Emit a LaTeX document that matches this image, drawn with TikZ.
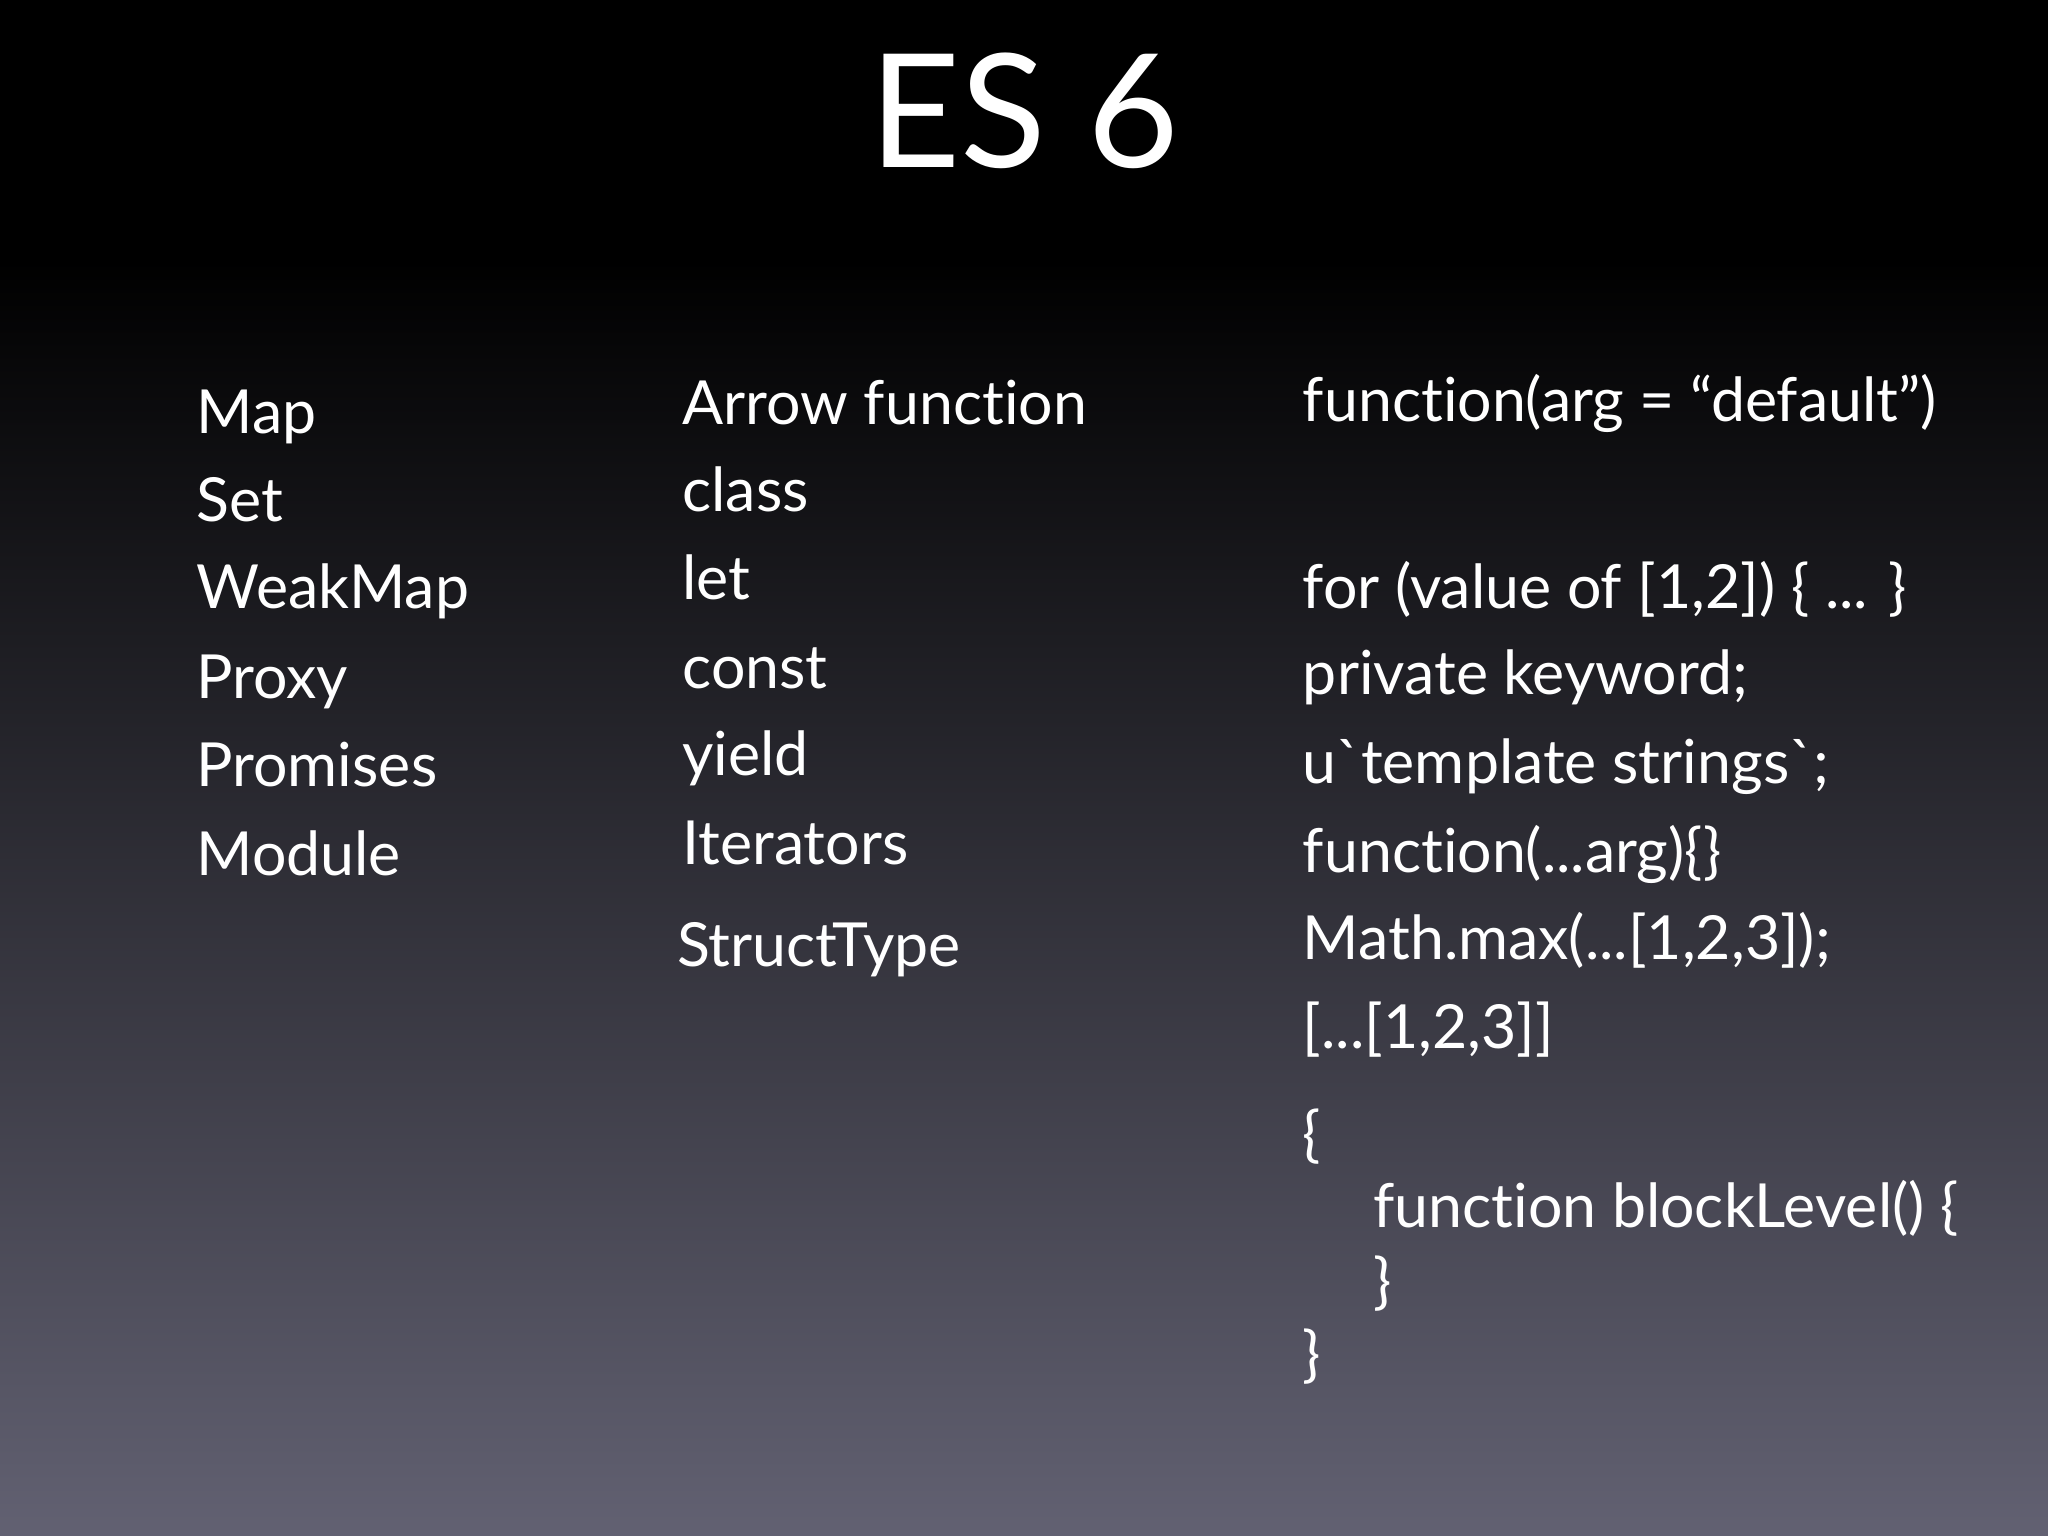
\documentclass[tikz,border=0pt]{standalone}
\usepackage{fontspec}
\setmainfont[Ligatures=NoCommon]{Lato}
\definecolor{bgmid}{HTML}{1E1E3A}
\definecolor{bgbot}{HTML}{626172}
\begin{document}
\begin{tikzpicture}[x=0.01306cm,y=-0.01306cm,
  txt/.style={anchor=base west,text=white,font=\fontsize{17.3}{20}\selectfont,inner sep=0pt}]
\useasboundingbox (0,0) rectangle (1568,1176);
\fill[black] (0,0) rectangle (1568,200);
\shade[top color=black,middle color=bgmid,bottom color=bgbot] (0,199) rectangle (1568,1176);
\node[anchor=base,text=white,font=\fontsize{45}{50}\selectfont,inner sep=0pt] (title) at (784,128) {ES 6};
% left column
\node[txt] (l1) at (150,332) {Map};
\node[txt] (l2) at (150,399) {Set};
\node[txt] (l3) at (150,466) {WeakMap};
\node[txt] (l4) at (150,535) {Proxy};
\node[txt] (l5) at (150,602) {Promises};
\node[txt] (l6) at (150,670) {Module};
% middle column
\node[txt] (m1) at (522,325) {Arrow function};
\node[txt] (m2) at (522,392) {class};
\node[txt] (m3) at (522,459) {let};
\node[txt] (m4) at (522,527) {const};
\node[txt] (m5) at (522,594) {yield};
\node[txt] (m6) at (522,662) {Iterators};
\node[txt] (m7) at (518,740) {StructType};
% right column
\node[txt] (r1) at (997,323) {function(arg = “default”)};
\node[txt] (r2) at (997,466) {for (value of [1,2]) \{ ... \}};
\node[txt] (r3) at (997,532) {private keyword;};
\node[txt] (r4) at (997,600) {u\textasciigrave template strings\textasciigrave;};
\node[txt] (r5) at (997,668) {function(...arg)\{\}};
\node[txt] (r6) at (997,735) {Math.max(...[1,2,3]);};
\node[txt] (r7) at (997,803) {[...[1,2,3]]};
\node[txt] (r8) at (997,885) {\{};
\node[txt] (r9) at (1051,940) {function blockLevel() \{};
\node[txt] (r10) at (1051,997) {\}};
\node[txt] (r11) at (997,1053) {\}};
\end{tikzpicture}
\end{document}
